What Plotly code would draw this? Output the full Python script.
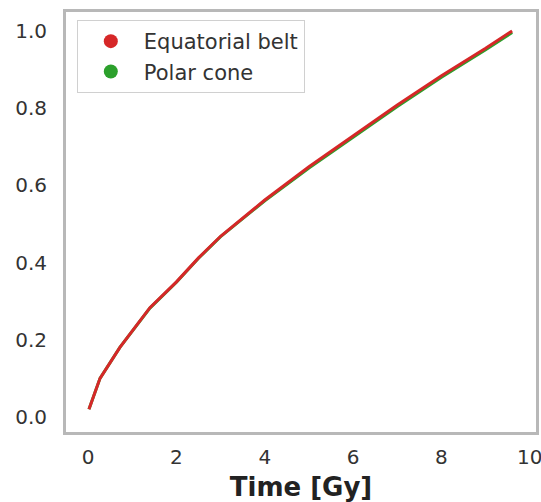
import plotly.graph_objects as go

# Temps [Gy]
time_gy = [0.02, 0.27, 0.72, 1.4, 2.0, 2.5, 3.0, 4.0, 5.0, 6.0, 7.0, 8.0, 9.0, 9.6]
# Courbes normalisées
equatorial_belt = [0.02, 0.10, 0.18, 0.283, 0.35, 0.412, 0.468, 0.562, 0.648, 0.728, 0.808, 0.884, 0.955, 1.0]
polar_cone = [0.02, 0.10, 0.18, 0.282, 0.349, 0.411, 0.467, 0.560, 0.645, 0.725, 0.804, 0.880, 0.951, 0.996]

RED = "#d62728"
GREEN = "#2ca02c"
FRAME = "#b8b8b8"

fig = go.Figure()

# lignes (verte dessous, rouge dessus)
fig.add_trace(go.Scatter(x=time_gy, y=polar_cone, mode="lines",
                         line=dict(color=GREEN, width=3), showlegend=False))
fig.add_trace(go.Scatter(x=time_gy, y=equatorial_belt, mode="lines",
                         line=dict(color=RED, width=3), showlegend=False))

# entrées de légende avec des ronds
fig.add_trace(go.Scatter(x=[None], y=[None], mode="markers", name="Equatorial belt",
                         marker=dict(color=RED, size=14), legendgroup="a"))
fig.add_trace(go.Scatter(x=[None], y=[None], mode="markers", name="Polar cone",
                         marker=dict(color=GREEN, size=14), legendgroup="b"))

axis_common = dict(
    showgrid=False, zeroline=False, automargin=False,
    showline=True, mirror=True, linecolor=FRAME, linewidth=3,
    ticks="", tickfont=dict(size=20, color="#333333"),
    ticklabeloverflow="allow",
)

fig.update_layout(
    width=541, height=502,
    margin=dict(l=66, r=5, t=12, b=70),
    paper_bgcolor="white", plot_bgcolor="white",
    font=dict(family="DejaVu Sans", color="#333333"),
    xaxis=dict(range=[-0.5, 10.14], tickvals=[0, 2, 4, 6, 8, 10],
               ticklabelstandoff=5,
               title=dict(text="<b>Time [Gy]</b>", font=dict(size=26, color="#222222"),
                          standoff=16),
               **axis_common),
    yaxis=dict(range=[-0.039, 1.049], tickvals=[0, 0.2, 0.4, 0.6, 0.8, 1.0],
               tickformat=".1f", ticklabelstandoff=12,
               **axis_common),
    legend=dict(x=0.023, y=0.981, xanchor="left", yanchor="top",
                bgcolor="white", bordercolor="#d0d0d0", borderwidth=1,
                font=dict(size=21, color="#333333"), tracegroupgap=0,
                itemwidth=56),
    showlegend=True,
)

# pas de marge autour de la page, pas de barre d'outils
fig.write_html("out.html", config={"displayModeBar": False},
               post_script="document.body.style.margin='0';")
